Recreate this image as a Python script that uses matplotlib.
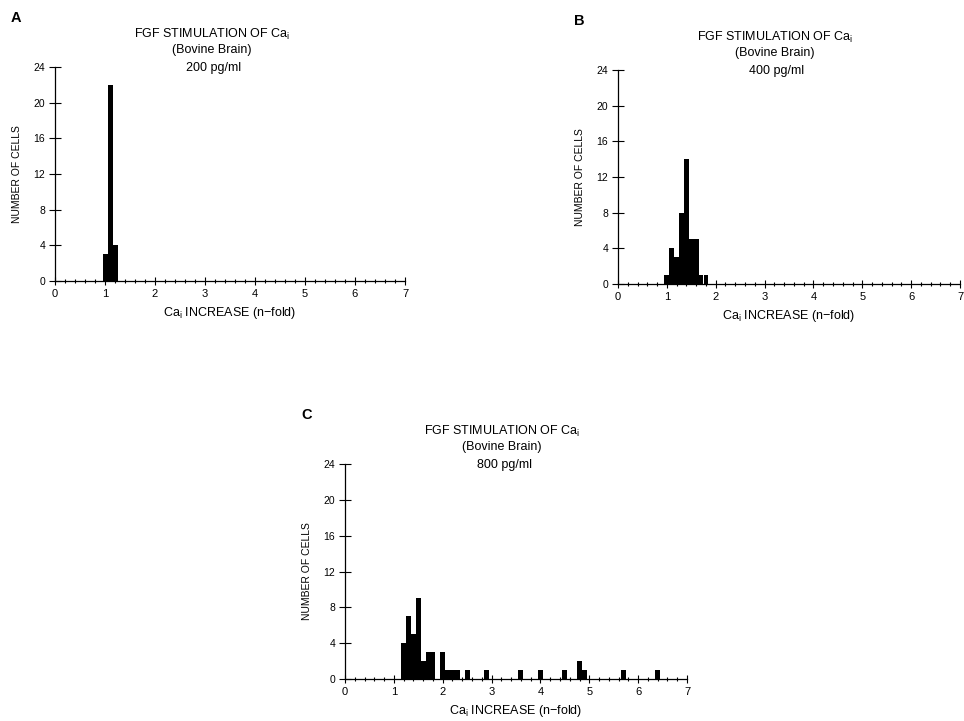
import matplotlib
matplotlib.use("Agg")
import matplotlib.pyplot as plt
import numpy as np

plt.rcParams['font.family'] = ['Liberation Sans', 'DejaVu Sans']
plt.rcParams['mathtext.fontset'] = 'custom'
plt.rcParams['mathtext.rm'] = 'Liberation Sans'

# histogram data (bin centres, number of cells)
bins_a = [1.0, 1.1, 1.2]
counts_a = [3, 22, 4]

bins_b = [1.0, 1.1, 1.2, 1.3, 1.4, 1.5, 1.6, 1.7, 1.8]
counts_b = [1, 4, 3, 8, 14, 5, 5, 1, 1]

bins_c = [1.2, 1.3, 1.4, 1.5, 1.6, 1.7, 1.8, 2.0, 2.1, 2.2, 2.3, 2.5, 2.9,
          3.6, 4.0, 4.5, 4.8, 4.9, 5.7, 6.4]
counts_c = [4, 7, 5, 9, 2, 3, 3, 3, 1, 1, 1, 1, 1, 1, 1, 1, 2, 1, 1, 1]

doses = ['200 pg/ml', '400 pg/ml', '800 pg/ml']
letters = ['A', 'B', 'C']

W, H = 964, 721


def fx(px):
    return px / W


def fy(py):
    return 1 - py / H


def draw_panel(fig, left, right, top, bottom, bins, counts, letter, dose):
    ax = fig.add_axes([fx(left), fy(bottom), fx(right - left), (bottom - top) / H])
    ax.bar(bins, counts, width=0.1, color='black', linewidth=0)
    ax.set_xlim(0, 7)
    ax.set_ylim(0, 24)
    ax.spines['top'].set_visible(False)
    ax.spines['right'].set_visible(False)
    ax.spines['left'].set_linewidth(0.9)
    ax.spines['bottom'].set_linewidth(0.9)
    ax.set_xticks(np.arange(0, 8, 1))
    ax.set_xticks(np.arange(0, 7.01, 0.2), minor=True)
    ax.set_yticks(np.arange(0, 25, 4))
    ax.tick_params(axis='y', direction='inout', length=8, width=0.8,
                   labelsize=7.5, pad=3)
    ax.tick_params(axis='x', which='major', direction='inout', length=6,
                   width=0.8, labelsize=8, pad=3)
    ax.tick_params(axis='x', which='minor', direction='inout', length=2.5,
                   width=0.8)
    ax.set_ylabel('NUMBER OF CELLS', fontsize=7.5, labelpad=8)
    ax.set_xlabel(r'Ca$_\mathregular{i}$ INCREASE (n$-$fold)', fontsize=9,
                  labelpad=4)

    cx = left + 157
    fig.text(fx(left - 44), fy(top - 49), letter, fontsize=10.5,
             fontweight='bold', ha='left', va='center')
    fig.text(fx(cx), fy(top - 33), r'FGF STIMULATION OF Ca$_\mathregular{i}$',
             fontsize=9, ha='center', va='center')
    fig.text(fx(cx), fy(top - 17), '(Bovine Brain)', fontsize=9,
             ha='center', va='center')
    fig.text(fx(cx + 2), fy(top + 1), dose, fontsize=9,
             ha='center', va='center')
    return ax


fig = plt.figure(figsize=(9.64, 7.21), dpi=100)

draw_panel(fig, 55, 405, 67, 281, bins_a, counts_a, letters[0], doses[0])
draw_panel(fig, 618, 960, 70, 284, bins_b, counts_b, letters[1], doses[1])
draw_panel(fig, 345, 687, 464, 679, bins_c, counts_c, letters[2], doses[2])

fig.savefig('out.png', dpi=100)
